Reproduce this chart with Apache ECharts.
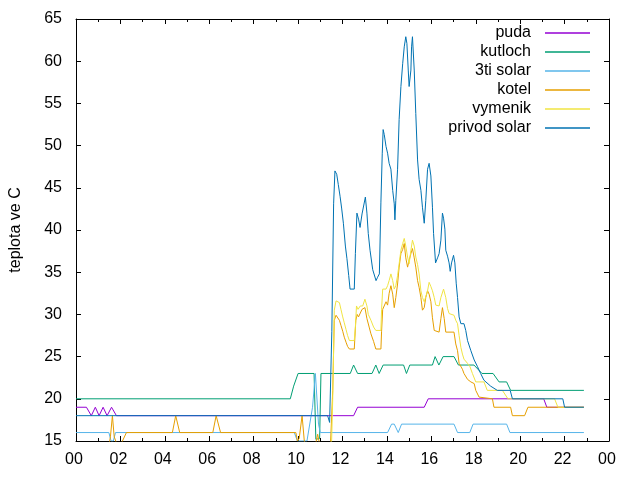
<!DOCTYPE html>
<html>
<head>
<meta charset="utf-8">
<script src="https://cdn.jsdelivr.net/npm/echarts@6/dist/echarts.min.js"></script>
<style>html,body{margin:0;padding:0;background:#fff}#c{width:640px;height:480px}</style>
</head>
<body>
<div id="c"></div>
<script>
// hours of day (x) and temperatures (y)
const seriesNames = ['puda', 'kutloch', '3ti solar', 'kotel', 'vymenik', 'privod solar'];
const xTicks = [0, 2, 4, 6, 8, 10, 12, 14, 16, 18, 20, 22, 24];

const pudaT = [0, 0.47, 0.69, 0.87, 1.04, 1.22, 1.4, 1.6, 1.82, 11.56, 12.5, 12.68, 15.68, 15.86, 21.06, 21.2, 22.87];
const pudaV = [19, 19, 18, 19, 18, 19, 18, 19, 18, 18, 18, 19, 19, 20, 20, 19, 19];

const kutlochT = [0, 9.65, 9.8, 10.0, 10.72, 10.8, 10.97, 11.03, 12.35, 12.5, 12.68, 13.33, 13.5, 13.65, 13.83, 14.75, 14.88, 15.03, 16.05, 16.17, 16.34, 16.53, 17.02, 17.22, 17.92, 18.28, 18.78, 19.05, 19.39, 19.57, 22.87];
const kutlochV = [20, 20, 21.5, 23, 23, 15.2, 15.3, 23, 23, 24, 23, 23, 24, 23, 24, 24, 23, 24, 24, 25, 24, 25, 25, 24, 24, 23, 23, 22, 22, 21, 21];

const solar3T = [0, 1.48, 1.58, 1.68, 1.78, 9.83, 9.97, 10.4, 10.65, 10.78, 10.85, 10.92, 11.0, 14.03, 14.21, 14.33, 14.51, 14.66, 17.02, 17.18, 17.73, 17.88, 19.39, 19.54, 22.87];
const solar3V = [16, 16, 15, 15, 16, 16, 15, 15, 19, 23, 23, 17, 16, 16, 17, 17, 16, 17, 17, 16, 16, 17, 17, 16, 16];

const kotelT = [0, 1.45, 1.55, 1.64, 1.72, 1.79, 1.85, 1.95, 2.27, 4.34, 4.49, 4.67, 6.16, 6.31, 6.51, 9.9, 9.97, 10.05, 10.18, 10.28, 10.36, 10.78, 10.88, 10.98, 11.45, 11.56, 11.63, 11.71, 11.78, 11.86, 11.93, 12.01, 12.08, 12.16, 12.23, 12.31, 12.53, 12.6, 12.66, 12.72, 12.8, 12.88, 13.01, 13.1, 13.2, 13.28, 13.4, 13.5, 13.73, 13.76, 13.81, 13.96, 14.03, 14.1, 14.18, 14.26, 14.33, 14.4, 14.48, 14.55, 14.63, 14.71, 14.78, 14.85, 14.93, 15.0, 15.08, 15.15, 15.23, 15.3, 15.38, 15.45, 15.53, 15.6, 15.68, 15.75, 15.83, 15.9, 15.98, 16.05, 16.13, 16.35, 16.43, 16.5, 16.58, 16.65, 17.02, 17.1, 17.18, 17.25, 17.33, 17.4, 17.47, 17.63, 17.78, 17.93, 18.0, 18.15, 18.22, 18.75, 18.82, 19.57, 19.65, 20.2, 20.35, 22.87];
const kotelV = [14, 14, 15.5, 18, 15.5, 15, 14.2, 14.2, 16, 16, 18, 16, 16, 18, 16, 16, 15, 15.3, 18, 15, 14.5, 14.5, 15.8, 14.5, 14, 21, 29.3, 29.9, 29.8, 29.3, 28.7, 28.0, 27.3, 26.7, 26.2, 25.9, 25.9, 29.3, 30.0, 29.7, 29.7, 30.6, 30.8, 29.5, 28.5, 27.7, 26.8, 25.9, 25.9, 28.0, 30.6, 31.5, 31.1, 32.5, 33.4, 32.4, 30.8, 32.0, 33.6, 35.6, 37.2, 37.7, 38.4, 36.7, 35.6, 36.4, 37.2, 37.8, 36.7, 35.6, 34.0, 33.2, 32.0, 30.5, 30.8, 32.0, 32.8, 32.4, 31.5, 29.6, 28.1, 27.9, 29.5, 30.8, 29.5, 27.9, 27.9, 26.5, 25.7, 24.2, 24.0, 23.5, 23.0, 22.3, 22.0, 21.8, 21.0, 20.2, 20.0, 20.0, 19.0, 19.0, 18.0, 18.0, 19.0, 19.0];

const vymenikT = [0, 11.5, 11.56, 11.63, 11.71, 11.78, 11.86, 11.93, 12.01, 12.08, 12.16, 12.23, 12.31, 12.53, 12.58, 12.63, 12.7, 12.8, 12.91, 13.01, 13.1, 13.16, 13.28, 13.4, 13.5, 13.73, 13.76, 13.81, 13.96, 14.03, 14.1, 14.18, 14.26, 14.33, 14.4, 14.48, 14.55, 14.63, 14.71, 14.78, 14.85, 14.93, 15.0, 15.08, 15.15, 15.23, 15.3, 15.38, 15.45, 15.53, 15.6, 15.68, 15.75, 15.83, 15.9, 15.98, 16.05, 16.13, 16.2, 16.35, 16.43, 16.55, 16.65, 16.73, 16.8, 17.02, 17.1, 17.18, 17.25, 17.33, 17.4, 17.47, 17.63, 17.74, 17.85, 18.0, 18.37, 18.52, 19.2, 19.45, 21.55, 21.7, 22.87];
const vymenikV = [14, 14, 20, 30.5, 31.6, 31.8, 31.4, 30.6, 29.7, 29.0, 28.2, 27.5, 26.9, 26.9, 28.5, 31.0, 30.6, 31.0, 31.0, 31.8, 31.0, 30.0, 29.3, 28.5, 28.1, 28.1, 30.6, 33.0, 33.0, 33.4, 34.0, 34.8, 34.0, 33.0, 33.4, 34.6, 36.0, 37.6, 38.4, 39.0, 38.1, 36.8, 36.0, 37.6, 38.8, 38.1, 36.8, 35.9, 34.8, 32.8, 32.0, 31.5, 31.5, 32.8, 33.8, 33.3, 32.8, 32.0, 31.1, 31.0, 32.0, 33.0, 32.0, 30.7, 30.1, 29.9, 29.3, 28.9, 27.5, 26.1, 25.3, 24.7, 24.2, 23.8, 23.0, 22.0, 22.0, 21.0, 21.0, 20.0, 20.0, 19.0, 19.0];

const privodT = [0, 11.33, 11.42, 11.48, 11.52, 11.6, 11.66, 11.74, 11.81, 11.89, 11.96, 12.04, 12.13, 12.2, 12.28, 12.34, 12.53, 12.58, 12.65, 12.73, 12.79, 12.88, 13.03, 13.1, 13.16, 13.24, 13.36, 13.51, 13.58, 13.66, 13.73, 13.79, 13.83, 13.88, 13.96, 14.03, 14.1, 14.18, 14.26, 14.33, 14.36, 14.4, 14.48, 14.55, 14.63, 14.71, 14.78, 14.85, 14.9, 14.96, 15.0, 15.08, 15.11, 15.15, 15.23, 15.3, 15.38, 15.45, 15.53, 15.6, 15.68, 15.75, 15.83, 15.9, 15.98, 16.05, 16.1, 16.19, 16.28, 16.35, 16.43, 16.5, 16.55, 16.61, 16.65, 16.73, 16.8, 16.85, 16.91, 17.0, 17.06, 17.12, 17.18, 17.25, 17.33, 17.47, 17.55, 17.63, 17.78, 17.93, 18.08, 18.22, 18.37, 18.67, 18.97, 19.55, 19.65, 21.92, 22.0, 22.87];
const privodV = [18, 18, 17.2, 17.2, 28, 43.1, 47.0, 46.6, 45.4, 44.0, 42.6, 40.8, 38.1, 36.6, 34.6, 33.0, 33.0, 37.2, 42.0, 41.2, 40.3, 41.9, 43.9, 42.0, 39.6, 37.6, 35.3, 34.0, 34.4, 34.8, 43.3, 49.1, 51.9, 51.3, 49.9, 49.1, 47.9, 47.2, 44.7, 43.1, 41.2, 43.5, 47.2, 53.1, 57.0, 59.7, 61.7, 62.9, 62.1, 58.95, 57.0, 58.95, 61.7, 62.9, 58.95, 53.8, 48.3, 46.0, 44.7, 42.7, 40.8, 43.5, 47.2, 47.9, 46.4, 42.7, 39.6, 36.1, 36.7, 37.2, 38.8, 42.0, 41.4, 40.1, 37.6, 36.9, 36.1, 35.1, 36.1, 37.0, 36.1, 33.7, 32.0, 29.7, 28.9, 28.9, 28.1, 26.9, 25.7, 24.6, 23.8, 23.0, 22.2, 21.5, 21.0, 21.0, 20.0, 20.0, 19.0, 19.0];

const colors = ['#9400d3', '#009e73', '#56b4e9', '#e69f00', '#f0e442', '#0072b2'];
const allT = [pudaT, kutlochT, solar3T, kotelT, vymenikT, privodT];
const allV = [pudaV, kutlochV, solar3V, kotelV, vymenikV, privodV];

const FONT = 'Liberation Sans';
const pad2 = v => { const h = Math.round(v) % 24; return (h < 10 ? '0' : '') + h; };

const xBase = {
  type: 'value', min: xTicks[0], max: xTicks[xTicks.length - 1], interval: 2,
  axisLine: { show: true, onZero: false, lineStyle: { color: '#000', width: 1 } },
  axisTick: { show: true, inside: true, length: 5, lineStyle: { color: '#000' } },
  minorTick: { show: true, splitNumber: 2, length: 3, lineStyle: { color: '#000' } },
  splitLine: { show: false }
};
const yBase = {
  type: 'value', min: 15, max: 65, interval: 5,
  axisLine: { show: true, onZero: false, lineStyle: { color: '#000', width: 1 } },
  axisTick: { show: true, inside: true, length: 5, lineStyle: { color: '#000' } },
  splitLine: { show: false }
};

const chart = echarts.init(document.getElementById('c'), null, { renderer: 'canvas' });
chart.setOption({
  animation: false,
  backgroundColor: '#fff',
  grid: { left: 74, right: 31, top: 19, bottom: 39 },
  xAxis: [
    Object.assign({}, xBase, {
      position: 'bottom',
      axisLabel: { show: true, formatter: pad2, fontFamily: FONT, fontSize: 16, color: '#000', margin: 11, padding: [0, 4, 0, 0] }
    }),
    Object.assign({}, xBase, { position: 'top', axisLabel: { show: false } })
  ],
  yAxis: [
    Object.assign({}, yBase, {
      position: 'left',
      name: 'teplota ve C', nameLocation: 'middle', nameRotate: 90, nameGap: 52,
      nameTextStyle: { fontFamily: FONT, fontSize: 16, color: '#000' },
      axisLabel: { show: true, fontFamily: FONT, fontSize: 16, color: '#000', margin: 14 }
    }),
    Object.assign({}, yBase, { position: 'right', axisLabel: { show: false } })
  ],
  legend: {
    orient: 'vertical', right: 50, top: 25, align: 'right', padding: 0,
    icon: 'rect', itemWidth: 45, itemHeight: 1.5, itemGap: 3,
    data: seriesNames,
    textStyle: { fontFamily: FONT, fontSize: 16, color: '#000', lineHeight: 16, padding: [0, 9, 0, 0] },
    selectedMode: false
  },
  series: seriesNames.map((name, i) => ({
    name: name,
    type: 'line',
    xAxisIndex: 0, yAxisIndex: 0,
    symbol: 'none',
    clip: true,
    color: colors[i],
    lineStyle: { color: colors[i], width: 1 },
    data: allT[i].map((t, k) => [t, allV[i][k]])
  }))
});
</script>
</body>
</html>
